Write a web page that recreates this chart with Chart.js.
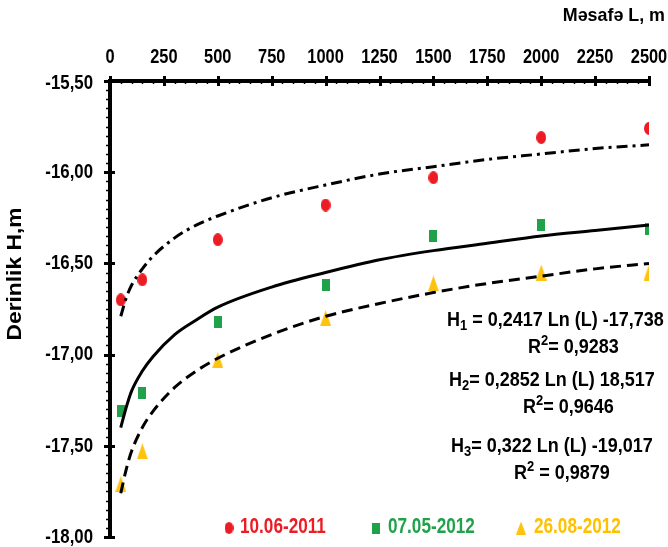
<!DOCTYPE html>
<html lang="az">
<head>
<meta charset="UTF-8">
<title>Derinlik H,m</title>
<script src="https://cdn.jsdelivr.net/npm/chart.js@4"></script>
<style>
  * { margin: 0; padding: 0; box-sizing: border-box; }
  body { background: #fff; width: 668px; height: 547px; overflow: hidden; }
  #wrap { position: relative; width: 668px; height: 547px; }
</style>
</head>
<body>
<div id="wrap"><canvas id="chart" width="668" height="547"></canvas></div>
<script>
// distances L, m (measured points)
const distances = [50, 150, 500, 1000, 1500, 2000, 2500];

// depth H, m for each survey date
const h2011 = [-16.70, -16.59, -16.37, -16.18, -16.03, -15.81, -15.76];
const h2012may = [-17.31, -17.21, -16.82, -16.62, -16.35, -16.29, -16.31];
const h2012aug = [-17.71, -17.53, -17.03, -16.80, -16.61, -16.55, -16.55];

// log trend curves at these distances
const trendL = [50, 75, 100, 150, 200, 300, 400, 500, 750, 1000, 1250, 1500, 1750, 2000, 2250, 2500];
const trend1 = [-16.79, -16.69, -16.62, -16.53, -16.46, -16.36, -16.29, -16.24, -16.14, -16.07, -16.01, -15.97, -15.93, -15.90, -15.87, -15.85];
const trend2 = [-17.40, -17.29, -17.20, -17.09, -17.01, -16.89, -16.81, -16.74, -16.63, -16.55, -16.48, -16.43, -16.39, -16.35, -16.32, -16.29];
const trend3 = [-17.76, -17.63, -17.53, -17.40, -17.31, -17.18, -17.09, -17.02, -16.89, -16.79, -16.72, -16.66, -16.61, -16.57, -16.53, -16.50];

const seriesLabels = ['10.06-2011', '07.05-2012', '26.08-2012'];
const xTicks = [0, 250, 500, 750, 1000, 1250, 1500, 1750, 2000, 2250, 2500];
const yTicks = [-15.5, -16, -16.5, -17, -17.5, -18];

const RED = '#ED1C24', GREEN = '#1FA24A', YELLOW = '#FFC20E';
const FONT = '"Liberation Sans", Arial, sans-serif';

function marker(kind, color, w, h) {
  const c = document.createElement('canvas');
  c.width = w; c.height = h;
  const g = c.getContext('2d');
  g.fillStyle = color;
  if (kind === 'ellipse') {
    g.beginPath(); g.ellipse(w / 2, h / 2, w / 2, h / 2, 0, 0, Math.PI * 2); g.fill();
  } else if (kind === 'rect') {
    g.fillRect(0, 0, w, h);
  } else {
    g.beginPath(); g.moveTo(w / 2, 0); g.lineTo(w, h); g.lineTo(0, h); g.closePath(); g.fill();
  }
  return c;
}

const pts = (xs, ys) => xs.map((x, i) => ({ x: x, y: ys[i] }));

// condensed bold text: the original uses a narrow face
function txt(ctx, s, x, y, size, sx, align) {
  ctx.save();
  ctx.translate(x, y);
  ctx.scale(sx, 1);
  ctx.font = 'bold ' + size + 'px ' + FONT;
  ctx.textAlign = align || 'left';
  ctx.textBaseline = 'middle';
  ctx.fillText(s, 0, 0);
  ctx.restore();
}

function richText(ctx, parts, x, y, size, sx) {
  let cx = x;
  parts.forEach(p => {
    const s = p[1] ? size * 0.72 : size;
    let dy = 0;
    if (p[1] === 'sub') dy = size * 0.3;
    if (p[1] === 'sup') dy = -size * 0.3;
    txt(ctx, p[0], cx, y + dy, s, sx);
    ctx.font = 'bold ' + s + 'px ' + FONT;
    cx += ctx.measureText(p[0]).width * sx;
  });
}

const fmtX = v => String(v);
const fmtY = v => v.toFixed(2).replace('.', ',');

const extras = {
  id: 'extras',
  afterDraw(chart) {
    const ctx = chart.ctx;
    const xs = chart.scales.x, ys = chart.scales.y;
    const left = chart.chartArea.left, top = chart.chartArea.top;
    ctx.save();
    ctx.strokeStyle = '#000';
    // y axis ticks
    for (let i = 0; i <= 50; i++) {
      const v = -18 + i * 0.05;
      const py = Math.round(ys.getPixelForValue(v)) + 0.5;
      const major = i % 10 === 0;
      ctx.lineWidth = major ? 3 : 1.5;
      ctx.beginPath();
      ctx.moveTo(left - (major ? 6 : 4), py);
      ctx.lineTo(left + (major ? 5 : 0), py);
      ctx.stroke();
    }
    // x axis ticks
    for (let v = 0; v <= 2500; v += 50) {
      const px = Math.round(xs.getPixelForValue(v)) + 0.5;
      const major = v % 250 === 0;
      ctx.lineWidth = major ? 3 : 1.5;
      ctx.beginPath();
      ctx.moveTo(px, top - (major ? 5 : 0));
      ctx.lineTo(px, top + (major ? 5 : 3));
      ctx.stroke();
    }
    ctx.restore();

    ctx.save();
    ctx.fillStyle = '#000';
    // tick labels
    xTicks.forEach(v => txt(ctx, fmtX(v), xs.getPixelForValue(v), 57, 20, 0.82, 'center'));
    yTicks.forEach(v => txt(ctx, fmtY(v), 93, ys.getPixelForValue(v) + (v === -15.5 ? 2 : 0), 21, 0.8, 'right'));

    // axis titles
    txt(ctx, 'Məsafə L, m', 665, 16, 19, 0.94, 'right');
    ctx.save();
    ctx.translate(15, 274);
    ctx.rotate(-Math.PI / 2);
    txt(ctx, 'Derinlik H,m', 0, 0, 20, 1.14, 'center');
    ctx.restore();

    // equations
    const sz = 20, sx = 0.9;
    richText(ctx, [['H', ''], ['1', 'sub'], [' = 0,2417 Ln (L) -17,738', '']], 447, 320, sz, sx);
    richText(ctx, [['R', ''], ['2', 'sup'], ['= 0,9283', '']], 528, 347, sz, sx);
    richText(ctx, [['H', ''], ['2', 'sub'], ['= 0,2852 Ln (L) 18,517', '']], 449, 380, sz, sx);
    richText(ctx, [['R', ''], ['2', 'sup'], ['= 0,9646', '']], 523, 407, sz, sx);
    richText(ctx, [['H', ''], ['3', 'sub'], ['= 0,322 Ln (L) -19,017', '']], 451, 446, sz, sx);
    richText(ctx, [['R', ''], ['2', 'sup'], [' = 0,9879', '']], 514, 473, sz, sx);

    // legend
    const legendY = 527;
    const items = [
      [marker('ellipse', RED, 9, 12), 229, seriesLabels[0], RED, 240],
      [marker('rect', GREEN, 8, 11), 376, seriesLabels[1], GREEN, 388],
      [marker('tri', YELLOW, 10, 13), 521, seriesLabels[2], '#FFC000', 534]
    ];
    items.forEach(it => {
      ctx.drawImage(it[0], it[1] - it[0].width / 2, legendY - it[0].height / 2 + 1);
      ctx.fillStyle = it[3];
      txt(ctx, it[2], it[4], legendY, 22, 0.78, 'left');
    });
    ctx.restore();
  }
};

new Chart(document.getElementById('chart'), {
  type: 'scatter',
  data: {
    datasets: [
      { label: 'trend1', data: pts(trendL, trend1), showLine: true, pointRadius: 0,
        borderColor: '#000', borderWidth: 3, borderDash: [11, 5, 3, 5], cubicInterpolationMode: 'monotone', fill: false },
      { label: 'trend2', data: pts(trendL, trend2), showLine: true, pointRadius: 0,
        borderColor: '#000', borderWidth: 3, cubicInterpolationMode: 'monotone', fill: false },
      { label: 'trend3', data: pts(trendL, trend3), showLine: true, pointRadius: 0,
        borderColor: '#000', borderWidth: 3, borderDash: [11, 6], cubicInterpolationMode: 'monotone', fill: false },
      { label: seriesLabels[0], data: pts(distances, h2011), pointStyle: marker('ellipse', RED, 10, 13) },
      { label: seriesLabels[1], data: pts(distances, h2012may), pointStyle: marker('rect', GREEN, 8, 12) },
      { label: seriesLabels[2], data: pts(distances, h2012aug), pointStyle: marker('tri', YELLOW, 11, 16) }
    ]
  },
  options: {
    responsive: false,
    animation: false,
    layout: { padding: { left: 0, top: 0, right: 19, bottom: 10 } },
    plugins: { legend: { display: false }, tooltip: { enabled: false } },
    scales: {
      x: {
        type: 'linear', position: 'top', min: 0, max: 2500,
        afterBuildTicks: s => { s.ticks = xTicks.map(v => ({ value: v })); },
        afterFit: s => { s.height = 81; },
        grid: { display: false },
        border: { display: true, width: 4, color: '#000' },
        ticks: { display: false }
      },
      y: {
        type: 'linear', min: -18, max: -15.5,
        afterBuildTicks: s => { s.ticks = yTicks.map(v => ({ value: v })); },
        afterFit: s => { s.width = 110; },
        grid: { display: false },
        border: { display: true, width: 4, color: '#000' },
        ticks: { display: false }
      }
    }
  },
  plugins: [extras]
});
</script>
</body>
</html>
